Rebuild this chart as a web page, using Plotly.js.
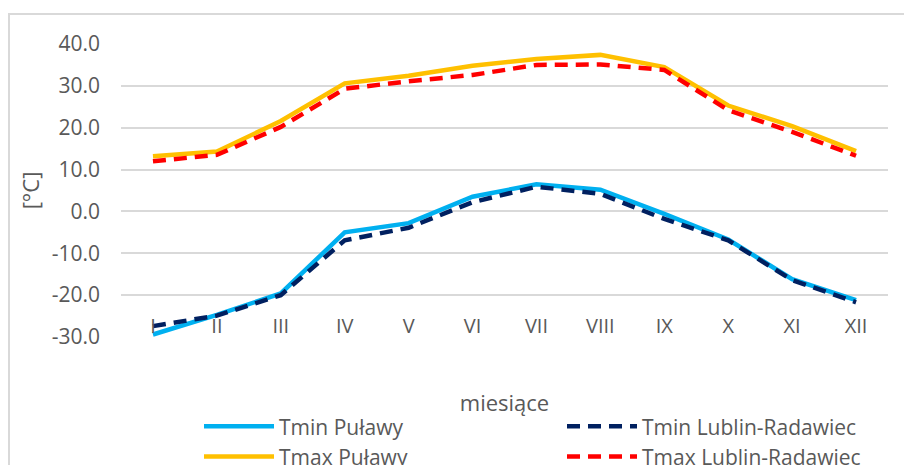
<!DOCTYPE html>
<html>
<head>
<meta charset="utf-8">
<script src="https://cdn.plot.ly/plotly-3.0.1.min.js"></script>
<style>
  html, body { margin:0; padding:0; background:#ffffff; overflow:hidden; width:904px; height:465px; }
  #frame { position:absolute; left:8px; top:13px; width:1000px; height:600px;
           border-left:2px solid #d9d9d9; border-top:2px solid #d9d9d9; }
  #chart { position:absolute; left:0; top:0; width:904px; height:500px; }
</style>
</head>
<body>
<div id="frame"></div>
<div id="chart"></div>
<script>
// Data
const months = ["I","II","III","IV","V","VI","VII","VIII","IX","X","XI","XII"];
const tminPulawy = [-29.4, -24.7, -19.6, -5.0, -2.8, 3.5, 6.5, 5.2, -0.6, -6.7, -16.2, -21.2];
const tminLublin = [-27.4, -24.9, -20.0, -6.9, -3.9, 2.2, 5.9, 4.2, -1.8, -6.9, -16.4, -21.7];
const tmaxPulawy = [13.2, 14.3, 21.6, 30.6, 32.4, 34.8, 36.4, 37.4, 34.5, 25.3, 20.4, 14.4];
const tmaxLublin = [12.0, 13.5, 20.2, 29.3, 31.1, 32.6, 35.0, 35.1, 33.8, 24.2, 19.0, 13.3];
const yTicks = [-30, -20, -10, 0, 10, 20, 30, 40];
const yTickLabels = ["-30.0", "-20.0", "-10.0", "0.0", "10.0", "20.0", "30.0", "40.0"];

const FONT = "Open Sans, sans-serif";
const GRAY = "#595959";

const traces = [
  {x: months, y: tminPulawy, name: "Tmin Puławy", legendrank: 1,
   mode: "lines", line: {color: "#00B0F0", width: 4.5}},
  {x: months, y: tmaxPulawy, name: "Tmax Puławy", legendrank: 3,
   mode: "lines", line: {color: "#FFC000", width: 4.5}},
  {x: months, y: tminLublin, name: "Tmin Lublin-Radawiec", legendrank: 2,
   mode: "lines", line: {color: "#002060", width: 4.5, dash: "13px,8px"}},
  {x: months, y: tmaxLublin, name: "Tmax Lublin-Radawiec", legendrank: 4,
   mode: "lines", line: {color: "#FF0000", width: 4.5, dash: "13px,8px"}}
];

const layout = {
  width: 904, height: 500,
  margin: {l: 121, r: 16, t: 44, b: 163, autoexpand: false},
  paper_bgcolor: "rgba(0,0,0,0)",
  plot_bgcolor: "rgba(0,0,0,0)",
  font: {family: FONT, color: GRAY, size: 20},
  showlegend: true,
  xaxis: {
    type: "category",
    range: [-0.5, 11.5],
    showgrid: false, zeroline: false, showline: false,
    ticks: "",
    ticklabelstandoff: -25,
    tickfont: {family: FONT, size: 20, color: GRAY},
    title: {text: "miesiące", font: {family: FONT, size: 22, color: GRAY}, standoff: 57}
  },
  yaxis: {
    range: [-30, 40],
    tickmode: "array",
    tickvals: yTicks,
    ticktext: yTickLabels,
    showgrid: true, gridcolor: "#d9d9d9", gridwidth: 2,
    zeroline: false, showline: false, ticks: "",
    ticklabelstandoff: 20,
    tickfont: {family: FONT, size: 21, color: GRAY},
    title: {text: "[°C]", font: {family: FONT, size: 22, color: GRAY}, standoff: 6}
  },
  legend: {
    orientation: "h",
    x: 0.1017, xanchor: "left",
    y: -0.236, yanchor: "top",
    entrywidth: 278, entrywidthmode: "pixels",
    itemwidth: 70,
    font: {family: FONT, size: 21, color: GRAY},
    bgcolor: "rgba(0,0,0,0)"
  }
};

Plotly.newPlot("chart", traces, layout, {displayModeBar: false, staticPlot: true});
</script>
</body>
</html>
